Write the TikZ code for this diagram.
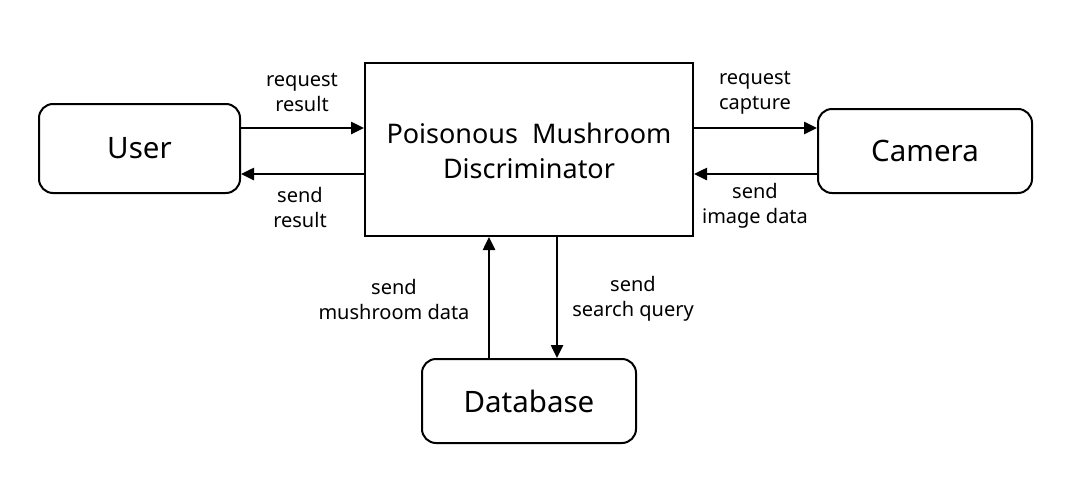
\documentclass[tikz,border=0pt]{standalone}
\usepackage{fontspec}
\setmainfont{Noto Sans}
\usetikzlibrary{arrows.meta}
\begin{document}
\begin{tikzpicture}[x=1pt,y=-1pt,
  ent/.style={draw,line width=2pt,rounded corners=14pt,inner sep=0pt,font=\fontsize{29.5}{33}\selectfont},
  proc/.style={draw,line width=2pt,inner sep=0pt},
  flow/.style={line width=2.5pt,-{Triangle[length=13pt,width=12pt]}},
  lbl/.style={align=center,font=\fontsize{20}{25}\selectfont}]
\useasboundingbox (0,0) rectangle (1088,485);
\node[ent,minimum width=201pt,minimum height=89pt] (user) at (139.5,148.5) {User};
\node[proc,minimum width=328pt,minimum height=173pt] (pmd) at (529,149.5) {};
\node[font=\fontsize{27}{35}\selectfont,align=center] (pmdt) at (529,151) {Poisonous~~Mushroom\\Discriminator};
\node[ent,minimum width=214pt,minimum height=84pt] (cam) at (925,151) {Camera};
\node[ent,minimum width=214pt,minimum height=84pt] (db) at (529,401) {Database};
\draw[flow] (user.east |- 0,128) -- (pmd.west |- 0,128);
\draw[flow] (pmd.west |- 0,174) -- (user.east |- 0,174);
\draw[flow] (pmd.east |- 0,128) -- (cam.west |- 0,128);
\draw[flow] (cam.west |- 0,174) -- (pmd.east |- 0,174);
\draw[flow] (db.north -| 489,0) -- (pmd.south -| 489,0);
\draw[flow] (pmd.south -| 557,0) -- (db.north -| 557,0);
\node[lbl] (l1) at (302,93) {request\\result};
\node[lbl] (l2) at (300,207) {send\\result};
\node[lbl] (l3) at (755,93) {request\\capture};
\node[lbl] (l4) at (755,206) {send\\image data};
\node[lbl] (l5) at (394,299) {send\\mushroom data};
\node[lbl] (l6) at (633,299) {send\\search query};
\end{tikzpicture}
\end{document}
